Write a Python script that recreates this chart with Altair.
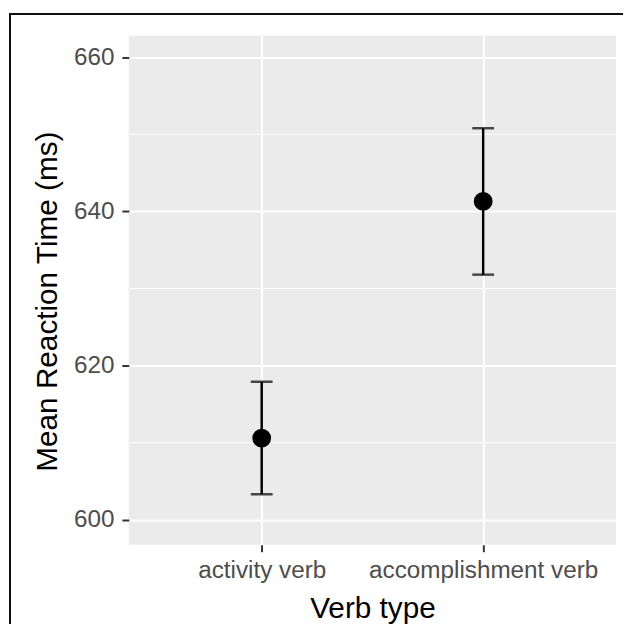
import altair as alt
import pandas as pd

verb_types = ["activity verb", "accomplishment verb"]
means = [610.6, 641.3]
lower = [603.3, 631.8]
upper = [617.9, 650.8]
y_ticks = [600, 620, 640, 660]
minor_grid = [610, 630, 650]

df = pd.DataFrame({"verb": verb_types, "mean": means, "lo": lower, "hi": upper})
df_minor = pd.DataFrame({"v": minor_grid})

FONT = "Liberation Sans"
W, H = 492, 514

x_enc = alt.X("verb:N", sort=verb_types, title="Verb type",
              scale=alt.Scale(type="point", padding=0.6),
              axis=alt.Axis(labelAngle=0, grid=True))
y_scale = alt.Scale(domain=[596.75, 662.8], nice=False, zero=False)

minor = alt.Chart(df_minor).mark_rule(color="white", strokeWidth=1).encode(
    y=alt.Y("v:Q", scale=y_scale)
)

rules = alt.Chart(df).mark_rule(color="black", strokeWidth=2.5).encode(
    x=x_enc,
    y=alt.Y("lo:Q", scale=y_scale, title="Mean Reaction Time (ms)",
            axis=alt.Axis(values=y_ticks, grid=True, titleY=268)),
    y2="hi:Q",
)
cap_lo = alt.Chart(df).mark_tick(color="black", thickness=2.5, size=22, orient="horizontal").encode(
    x=x_enc, y=alt.Y("lo:Q", scale=y_scale)
)
cap_hi = alt.Chart(df).mark_tick(color="black", thickness=2.5, size=22, orient="horizontal").encode(
    x=x_enc, y=alt.Y("hi:Q", scale=y_scale)
)
points = alt.Chart(df).mark_point(filled=True, color="black", opacity=1, size=360).encode(
    x=x_enc, y=alt.Y("mean:Q", scale=y_scale)
)

border_top = alt.Chart(df).mark_rule(color="black", strokeWidth=1.5, clip=False).encode(
    x=alt.value(-121), x2=alt.value(W + 20), y=alt.value(-22)
)
border_left = alt.Chart(df).mark_rule(color="black", strokeWidth=1.5, clip=False).encode(
    x=alt.value(-120), y=alt.value(-22), y2=alt.value(H + 80)
)

chart = alt.layer(minor, rules, cap_lo, cap_hi, points, border_top, border_left).properties(
    width=W, height=H,
    autosize=alt.AutoSizeParams(type="none"),
    padding={"left": 122, "top": 25, "right": 7, "bottom": 78},
).configure_view(
    fill="#EBEBEB", stroke=None
).configure_axis(
    domain=False,
    gridColor="white", gridWidth=2,
    tickColor="#333333", tickWidth=2, tickSize=7,
    labelFont=FONT, labelFontSize=24.5, labelColor="#4D4D4D", labelPadding=4,
    labelLimit=400,
    titleFont=FONT, titleFontSize=30, titleColor="black", titleFontWeight="normal",
).configure_axisY(
    titlePadding=11, labelPadding=8
).configure_axisX(
    titlePadding=12, labelPadding=7
)

chart.save("out.html", embed_options={"renderer": "svg", "actions": False})
